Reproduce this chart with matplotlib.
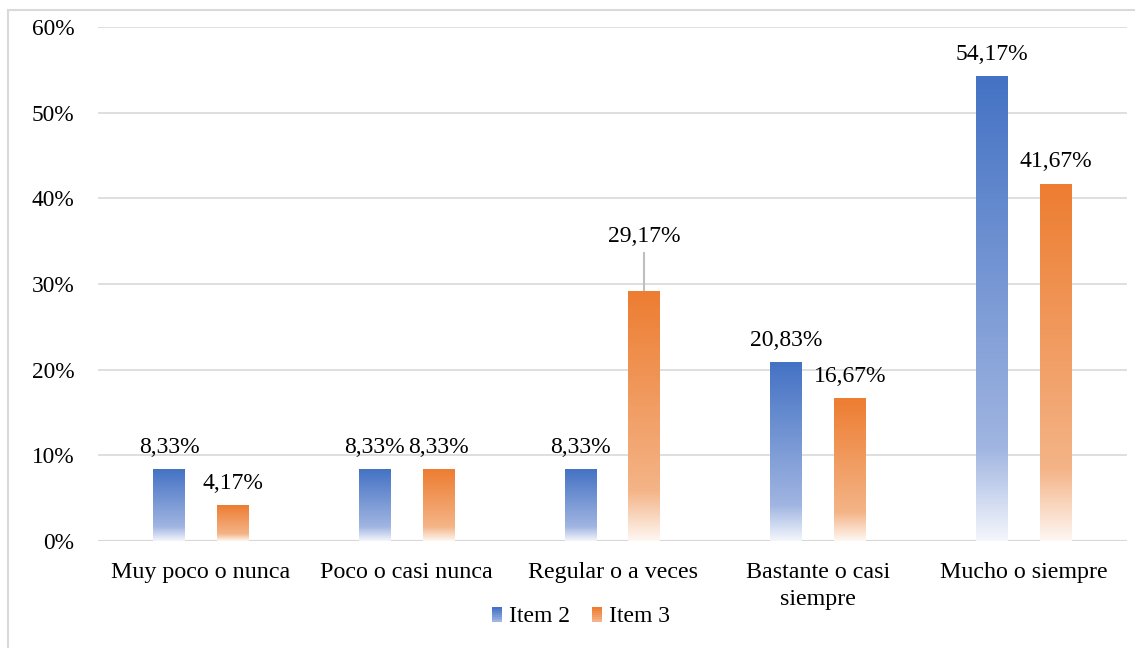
import numpy as np
import matplotlib.pyplot as plt
from matplotlib.colors import LinearSegmentedColormap
from matplotlib.patches import Rectangle
from matplotlib.legend_handler import HandlerBase

categories = ['Muy poco o nunca', 'Poco o casi nunca', 'Regular o a veces',
              'Bastante o casi\nsiempre', 'Mucho o siempre']
item2 = [8.33, 8.33, 8.33, 20.83, 54.17]
item3 = [4.17, 8.33, 29.17, 16.67, 41.67]
series_names = ['Item 2', 'Item 3']
yticks = [0, 10, 20, 30, 40, 50, 60]

plt.rcParams['font.family'] = ['Liberation Serif', 'DejaVu Serif']

cmap_blue = LinearSegmentedColormap.from_list(
    'b', [(0, '#F4F6FC'), (0.2, '#A0B5E1'), (1, '#4472C4')])
cmap_orange = LinearSegmentedColormap.from_list(
    'o', [(0, '#FEF7F2'), (0.2, '#F4B487'), (1, '#ED7D31')])

W, H = 1135, 648
fig = plt.figure(figsize=(W/100, H/100), dpi=100)
ax = fig.add_axes([98/W, 1-541/H, (1127-98)/W, (541-27)/H])

x = np.arange(len(categories))
bw = 0.155
grad = np.linspace(0, 1, 256).reshape(-1, 1)

def grad_bars(xs, vals, cmap):
    for xi, v in zip(xs, vals):
        ax.imshow(grad, extent=[xi-bw/2, xi+bw/2, 0, v], origin='lower',
                  aspect='auto', cmap=cmap, zorder=3, interpolation='bilinear')

grad_bars(x-bw, item2, cmap_blue)
grad_bars(x+bw, item3, cmap_orange)

ax.set_xlim(-0.5, len(categories)-0.5)
ax.set_ylim(0, 60)
ax.set_yticks(yticks)
ax.set_yticklabels([f'{t}%' for t in yticks])
ax.set_xticks(x)
ax.set_xticklabels(categories, linespacing=1.4)
ax.tick_params(length=0)
ax.tick_params(axis='y', pad=17, labelsize=16.8)
ax.tick_params(axis='x', pad=15, labelsize=17.3)
ax.grid(axis='y', color='#D9D9D9', lw=1.2, zorder=0)
ax.axhline(0, color='#D0D0D0', lw=1.5, zorder=1)
for s in ax.spines.values():
    s.set_visible(False)

def lab(v):
    return f'{v:.2f}%'.replace('.', ',')

# data labels; the 29,17% one sits higher with a leader line
for xi, v in zip(x-bw, item2):
    ax.annotate(lab(v), (xi, v), xytext=(0, 12), textcoords='offset points',
                ha='center', va='baseline', fontsize=17)
for i, (xi, v) in enumerate(zip(x+bw, item3)):
    if i == 2:
        ax.annotate(lab(v), (xi, v), xytext=(0, 35), textcoords='offset points',
                    ha='center', va='baseline', fontsize=17)
        ax.plot([xi, xi], [v, v + 4.5], color='#BFBFBF', lw=1.5, zorder=2)
    else:
        ax.annotate(lab(v), (xi, v), xytext=(0, 12), textcoords='offset points',
                    ha='center', va='baseline', fontsize=17)

class GradHandler(HandlerBase):
    def __init__(self, cmap):
        super().__init__()
        self.cmap = cmap
    def create_artists(self, legend, orig, xd, yd, width, height, fontsize, trans):
        n = 8
        arts = []
        for k in range(n):
            r = Rectangle((xd, yd + height*k/n), width, height/n,
                          facecolor=self.cmap(k/(n-1)*0.8+0.2), lw=0,
                          transform=trans)
            arts.append(r)
        return arts

h1 = Rectangle((0, 0), 1, 1)
h2 = Rectangle((0, 0), 1, 1)
fig.legend([h1, h2], series_names, loc='center', bbox_to_anchor=(581/W, 1-616/H),
           ncol=2, frameon=False, fontsize=17, handlelength=0.42, handleheight=0.6,
           handletextpad=0.3, columnspacing=0.9,
           handler_map={h1: GradHandler(cmap_blue), h2: GradHandler(cmap_orange)})

fig.patches.append(Rectangle((8/W, -0.1), 1.2, (1-10/H)+0.1, transform=fig.transFigure,
                             fill=False, edgecolor='#D9D9D9', lw=1.5))

fig.savefig('out.png', dpi=100)
